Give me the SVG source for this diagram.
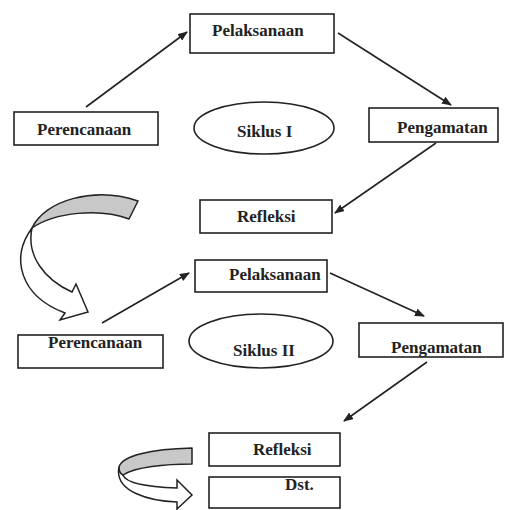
<svg xmlns="http://www.w3.org/2000/svg" width="511" height="510" viewBox="0 0 511 510">
<style>
.box{fill:#fff;stroke:#222;stroke-width:1.6}
.ell{fill:#fff;stroke:#222;stroke-width:1.6}
.t{font-family:"Liberation Serif","Times New Roman",serif;font-weight:bold;font-size:17px;fill:#222}
.c{stroke:#222;stroke-width:1.6;fill:none;marker-end:url(#ah)}
.band{fill:#c8c8c8;stroke:#222;stroke-width:1.5;stroke-linejoin:round}
.shaft{fill:#fff;stroke:#222;stroke-width:1.5;stroke-linejoin:miter}
</style>
<defs>
<marker id="ah" viewBox="0 0 10 8" refX="9" refY="4" markerWidth="10" markerHeight="8" markerUnits="userSpaceOnUse" orient="auto">
<path d="M0,0 L10,4 L0,8 Z" fill="#222"/>
</marker>
</defs>
<rect width="511" height="510" fill="#fff"/>
<g id="connectors">
<line class="c" x1="86" y1="107" x2="187" y2="32"/>
<line class="c" x1="338" y1="33" x2="451" y2="105"/>
<line class="c" x1="436" y1="143" x2="335" y2="213"/>
<line class="c" x1="102" y1="323" x2="189" y2="273"/>
<line class="c" x1="330" y1="273" x2="424" y2="316"/>
<line class="c" x1="427" y1="362" x2="344" y2="421"/>
</g>
<g id="curved-arrow-1">
<path class="shaft" d="M32,228 C10,258 20,296 65,313 L60,320 L88,312 L76,284 L72,292 C45,280 26,256 32,228 Z"/>
<path class="band" d="M32,228 C45,200 95,186 138,201 L129,219 C100,208 55,212 32,228 Z"/>
</g>
<g id="curved-arrow-2">
<path class="shaft" d="M119,467 C114,492 150,501 177,502 L177,509 L192,495 L177,480 L177,488 C150,487 126,484 123,475 C121,474 119,471 119,467 Z"/>
<path class="band" d="M192,448 C150,449 122,456 119,467 C119,471 121,474 123,475 C135,467 165,464 192,464 Z"/>
</g>
<g id="pelaksanaan1"><rect class="box" x="190" y="14" width="144" height="39"/><text class="t" x="212" y="36">Pelaksanaan</text></g>
<g id="perencanaan1"><rect class="box" x="14" y="112" width="144" height="33"/><text class="t" x="37" y="135">Perencanaan</text></g>
<g id="siklus1"><ellipse class="ell" cx="264" cy="128" rx="70" ry="26"/><text class="t" x="237" y="137">Siklus I</text></g>
<g id="pengamatan1"><rect class="box" x="369" y="108" width="129" height="34"/><text class="t" x="397" y="133">Pengamatan</text></g>
<g id="refleksi1"><rect class="box" x="200" y="200" width="132" height="33"/><text class="t" x="237" y="222">Refleksi</text></g>
<g id="pelaksanaan2"><rect class="box" x="195" y="260" width="132" height="32"/><text class="t" x="229" y="280">Pelaksanaan</text></g>
<g id="perencanaan2"><rect class="box" x="18" y="335" width="145" height="33"/><text class="t" x="48" y="348">Perencanaan</text></g>
<g id="siklus2"><ellipse class="ell" cx="261" cy="341" rx="72" ry="27"/><text class="t" x="233" y="356">Siklus II</text></g>
<g id="pengamatan2"><rect class="box" x="359" y="323" width="144" height="34"/><text class="t" x="391" y="353">Pengamatan</text></g>
<g id="refleksi2"><rect class="box" x="209" y="433" width="131" height="33"/><text class="t" x="253" y="455">Refleksi</text></g>
<g id="dst"><rect class="box" x="209" y="477" width="131" height="31"/><text class="t" x="285" y="490">Dst.</text></g>
</svg>
